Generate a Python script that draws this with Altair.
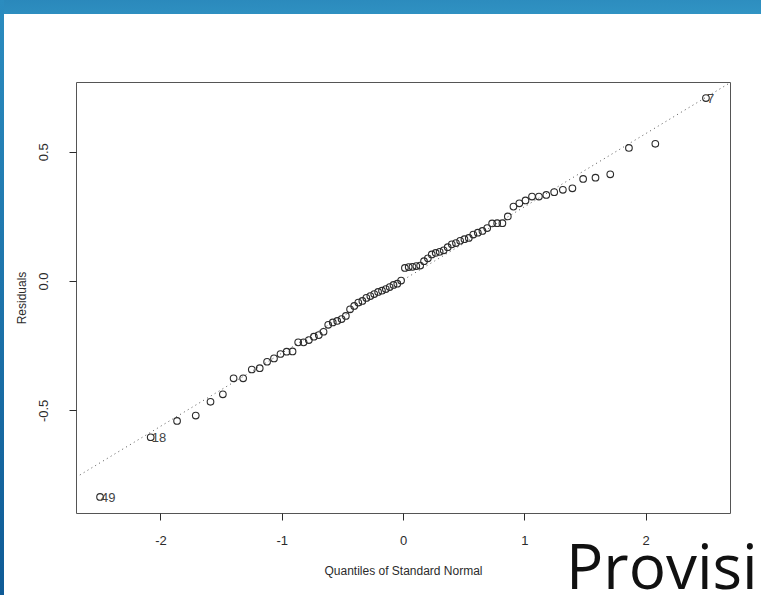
import altair as alt
import pandas as pd

# Sorted model residuals (80 observations)
residuals = [
    -0.835, -0.604, -0.541, -0.520, -0.467, -0.438, -0.376, -0.376,
    -0.342, -0.337, -0.312, -0.299, -0.282, -0.273, -0.272, -0.237,
    -0.237, -0.228, -0.215, -0.209, -0.196, -0.169, -0.160, -0.154,
    -0.147, -0.135, -0.109, -0.096, -0.083, -0.077, -0.065, -0.058,
    -0.050, -0.042, -0.037, -0.031, -0.023, -0.015, -0.010, 0.002,
    0.051, 0.054, 0.055, 0.058, 0.060, 0.077, 0.088, 0.103,
    0.109, 0.113, 0.119, 0.131, 0.142, 0.147, 0.156, 0.162,
    0.167, 0.180, 0.187, 0.194, 0.205, 0.223, 0.224, 0.224,
    0.250, 0.288, 0.301, 0.312, 0.327, 0.327, 0.333, 0.344,
    0.353, 0.359, 0.395, 0.400, 0.413, 0.515, 0.531, 0.708,
]

# Observation numbers identified on the plot, keyed by rank
flagged = {1: "49", 2: "18", 80: "7"}

# Reference line through the quartiles
line_intercept = 0.004
line_slope = 0.283

x_domain = [-2.696, 2.696]
y_domain = [-0.897, 0.770]
x_ticks = [-2, -1, 0, 1, 2]
y_ticks = [-0.5, 0.0, 0.5]

df = pd.DataFrame({
    "resid": residuals,
    "rank": list(range(1, len(residuals) + 1)),
})
df["label"] = [flagged.get(r, "") for r in df["rank"]]

line_df = pd.DataFrame({"q": x_domain})
line_df["fit"] = line_intercept + line_slope * line_df["q"]

FONT = "Liberation Sans"
INK = "#2b2b2b"
W, H = 654, 431

# plain hyphen-minus for negative tick labels
HYPHEN = "replace(datum.label, '\u2212', '-')"

x_scale = alt.Scale(domain=x_domain, nice=False, zero=False)
y_scale = alt.Scale(domain=y_domain, nice=False, zero=False)

x_axis = alt.Axis(values=x_ticks, format="d", title="Quantiles of Standard Normal",
                  labelExpr=HYPHEN,
                  domain=False, grid=False, tickSize=7, tickColor=INK,
                  labelPadding=14, titlePadding=18)
y_axis = alt.Axis(values=y_ticks, format=".1f", title="Residuals",
                  labelExpr=HYPHEN,
                  domain=False, grid=False, tickSize=7, tickColor=INK,
                  labelAngle=270, labelAlign="center", labelBaseline="bottom",
                  labelPadding=19, titlePadding=9)

base = alt.Chart(df).transform_calculate(
    q="quantileNormal((datum.rank - 0.5) / 80)"
)

points = base.mark_point(
    shape="circle", size=44, filled=False, stroke=INK, strokeWidth=1.1, opacity=1
).encode(
    x=alt.X("q:Q", scale=x_scale, axis=x_axis),
    y=alt.Y("resid:Q", scale=y_scale, axis=y_axis),
)

labels = base.transform_filter("datum.label != ''").mark_text(
    align="left", baseline="middle", dx=1, dy=1, font=FONT, fontSize=13, color="#444444"
).encode(
    x=alt.X("q:Q", scale=x_scale),
    y=alt.Y("resid:Q", scale=y_scale),
    text="label:N",
)

ref_line = alt.Chart(line_df).mark_line(
    color="#555555", strokeWidth=1, strokeDash=[1, 3.5], clip=True
).encode(
    x=alt.X("q:Q", scale=x_scale),
    y=alt.Y("fit:Q", scale=y_scale),
)

# Slide decoration: blue banner along the top and a thin bar on the left
blue_grad = {
    "gradient": "linear", "x1": 0, "y1": 0, "x2": 1, "y2": 1,
    "stops": [{"offset": 0, "color": "#2a88bb"}, {"offset": 1, "color": "#3194c4"}],
}
left_grad = {
    "gradient": "linear", "x1": 0, "y1": 0, "x2": 0, "y2": 1,
    "stops": [{"offset": 0, "color": "#2b8cbf"}, {"offset": 1, "color": "#0f5b96"}],
}
top_bar = alt.Chart(pd.DataFrame({"k": [0]})).mark_rect(color=blue_grad, clip=False).encode(
    x=alt.value(-76), x2=alt.value(761 - 76), y=alt.value(-82), y2=alt.value(-82 + 14)
)
left_bar = alt.Chart(pd.DataFrame({"k": [0]})).mark_rect(color=left_grad, clip=False).encode(
    x=alt.value(-76), x2=alt.value(-76 + 4), y=alt.value(-82), y2=alt.value(595 - 82)
)

caption = alt.Chart(pd.DataFrame({"t": ["Provision"]})).mark_text(
    align="left", baseline="alphabetic", font="Open Sans", fontSize=62,
    fontWeight="normal", color="#111111", clip=False
).encode(
    x=alt.value(566 - 76), y=alt.value(589 - 82), text="t:N"
)

chart = alt.layer(top_bar, left_bar, ref_line, points, labels, caption).properties(
    width=W, height=H,
    autosize=alt.AutoSizeParams(type="none"),
    padding={"left": 76, "top": 82, "right": 761 - 76 - W, "bottom": 595 - 82 - H},
    background="white",
).configure_view(
    stroke="#555555", strokeWidth=1
).configure_axis(
    labelFont=FONT, titleFont=FONT, labelFontSize=13, titleFontSize=12,
    labelColor=INK, titleColor=INK, titleFontWeight="normal",
)

chart.save("out.html", embed_options={"renderer": "svg", "actions": False})
